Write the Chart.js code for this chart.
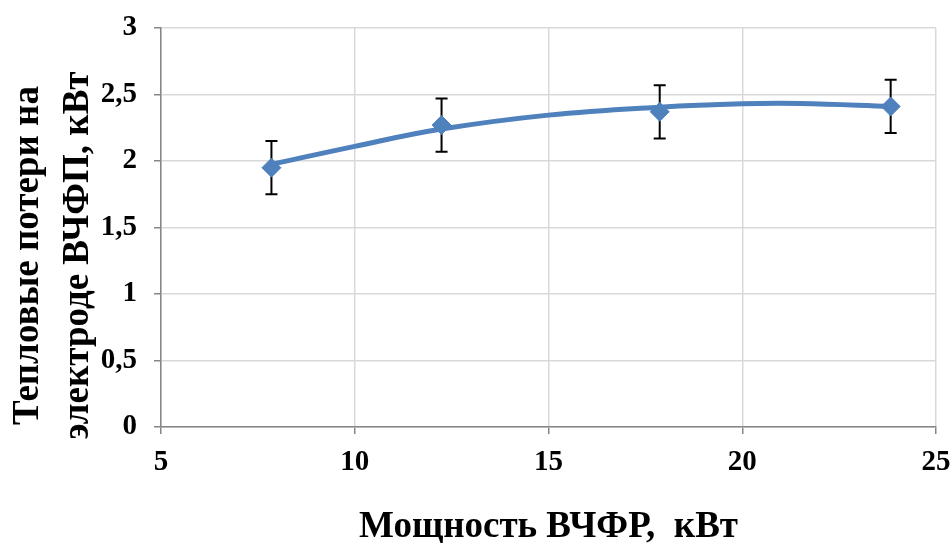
<!DOCTYPE html>
<html>
<head>
<meta charset="utf-8">
<script src="https://cdn.jsdelivr.net/npm/chart.js@4/dist/chart.umd.min.js"></script>
<style>
  html, body { margin: 0; padding: 0; background: #ffffff; }
  #wrap { width: 952px; height: 543px; }
</style>
</head>
<body>
<div id="wrap"><canvas id="c" width="952" height="543"></canvas></div>
<script>
// Measured data points (power, kW -> heat losses, kW)
const powerX = [7.85, 12.24, 17.87, 23.83];
const lossY = [1.95, 2.27, 2.37, 2.41];
const errorY = [0.2, 0.2, 0.2, 0.2];
// Trend line
const trendX = [7.85, 10, 12.24, 15, 17.87, 20, 21.5, 23.83];
const trendY = [1.975, 2.11, 2.24, 2.345, 2.405, 2.43, 2.432, 2.41];
// Axis ticks
const xTicks = [5, 10, 15, 20, 25];
const yTicks = [0, 0.5, 1, 1.5, 2, 2.5, 3];

const xTitle = 'Мощность ВЧФР,  кВт';
const yTitle = ['Тепловые потери на', 'электроде ВЧФП, кВт'];

const BLUE = '#4f81bd';
const FONT = '"Liberation Serif", "Times New Roman", serif';

const errorBars = {
  id: 'errorBars',
  beforeDatasetsDraw(chart) {
    const { ctx, scales: { x, y } } = chart;
    ctx.save();
    ctx.strokeStyle = '#000000';
    ctx.lineWidth = 2;
    for (let i = 0; i < powerX.length; i++) {
      const px = x.getPixelForValue(powerX[i]);
      const top = y.getPixelForValue(lossY[i] + errorY[i]);
      const bot = y.getPixelForValue(lossY[i] - errorY[i]);
      ctx.beginPath();
      ctx.moveTo(px, top); ctx.lineTo(px, bot);
      ctx.moveTo(px - 6, top); ctx.lineTo(px + 6, top);
      ctx.moveTo(px - 6, bot); ctx.lineTo(px + 6, bot);
      ctx.stroke();
    }
    ctx.restore();
  }
};

// Y-axis title (two lines, rotated), centred slightly below the plot centre as in the reference
const yAxisTitle = {
  id: 'yAxisTitle',
  afterDraw(chart) {
    const { ctx, chartArea } = chart;
    ctx.save();
    ctx.font = 'bold 37px ' + FONT;
    ctx.fillStyle = '#000000';
    ctx.textAlign = 'center';
    ctx.textBaseline = 'middle';
    const cy = (chartArea.top + chartArea.bottom) / 2 + 28;
    const xs = [28, 78];
    yTitle.forEach((line, i) => {
      ctx.save();
      ctx.translate(xs[i], cy);
      ctx.rotate(-Math.PI / 2);
      ctx.fillText(line, 0, 0);
      ctx.restore();
    });
    ctx.restore();
  }
};

new Chart(document.getElementById('c'), {
  type: 'scatter',
  data: {
    datasets: [
      {
        label: 'trend',
        data: trendX.map((v, i) => ({ x: v, y: trendY[i] })),
        showLine: true,
        borderColor: BLUE,
        borderWidth: 5,
        pointRadius: 0,
        tension: 0.4,
        fill: false,
        order: 0
      },
      {
        label: 'data',
        data: powerX.map((v, i) => ({ x: v, y: lossY[i] })),
        showLine: false,
        pointStyle: 'rectRot',
        pointRadius: 9.5,
        pointBackgroundColor: BLUE,
        pointBorderColor: BLUE,
        pointBorderWidth: 1,
        order: 1
      }
    ]
  },
  options: {
    responsive: false,
    animation: false,
    devicePixelRatio: 1,
    layout: { padding: { top: 28, right: 16, left: 0, bottom: 0 } },
    plugins: { legend: { display: false }, tooltip: { enabled: false } },
    scales: {
      x: {
        type: 'linear',
        min: 5, max: 25,
        afterBuildTicks(scale) { scale.ticks = xTicks.map(v => ({ value: v })); },
        afterFit(scale) { scale.height = 116; scale.paddingLeft = 0; scale.paddingRight = 0; },
        grid: { color: '#d9d9d9', lineWidth: 1.5, drawTicks: true, tickLength: 7, tickColor: '#868686' },
        border: { color: '#868686', width: 1.5 },
        ticks: {
          color: '#000000', padding: 11,
          font: { family: FONT, size: 29, weight: 'bold' },
          callback: v => String(v)
        },
        title: {
          display: true, text: xTitle, color: '#000000',
          padding: { top: 0, bottom: 0 },
          font: { family: FONT, size: 37, weight: 'bold', lineHeight: 0.85 }
        }
      },
      y: {
        type: 'linear',
        min: 0, max: 3,
        afterBuildTicks(scale) { scale.ticks = yTicks.map(v => ({ value: v })); },
        afterFit(scale) { scale.width = 161; scale.paddingTop = 0; scale.paddingBottom = 0; },
        grid: { color: '#d9d9d9', lineWidth: 1.5, drawTicks: true, tickLength: 7, tickColor: '#868686' },
        border: { color: '#868686', width: 1.5 },
        ticks: {
          color: '#000000', padding: 17,
          font: { family: FONT, size: 29, weight: 'bold' },
          callback: v => String(v).replace('.', ',')
        },
        title: { display: false }
      }
    }
  },
  plugins: [errorBars, yAxisTitle]
});
</script>
</body>
</html>
